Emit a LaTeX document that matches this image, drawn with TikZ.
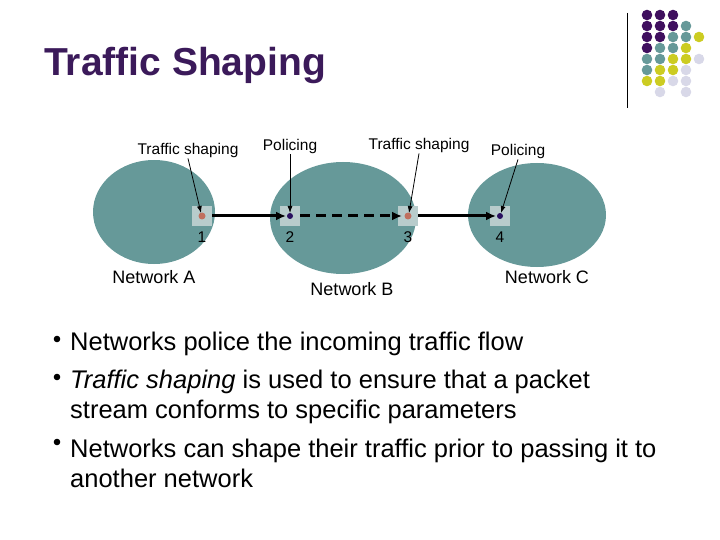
\documentclass[tikz,border=0pt]{standalone}
\usepackage{fontspec}
\setmainfont{Liberation Sans}
\usetikzlibrary{arrows.meta}
\definecolor{tpurple}{HTML}{3F0F5F}
\definecolor{tteal}{HTML}{669999}
\definecolor{tyel}{HTML}{CCCC22}
\definecolor{tlav}{HTML}{D8D8E8}
\definecolor{tsq}{HTML}{B8CCCC}
\definecolor{tsal}{HTML}{C0705F}
\definecolor{tdot}{HTML}{2A1060}
\definecolor{ttitle}{HTML}{3B1A5A}
\begin{document}
\begin{tikzpicture}[x=1pt,y=-1pt,
  net/.style={fill=tteal,draw=none},
  port/.style={fill=tsq,draw=none,minimum size=20pt,inner sep=0pt},
  lbl/.style={font=\fontsize{15.5}{17}\selectfont,inner sep=1pt},
  netlbl/.style={font=\fontsize{18}{20}\selectfont},
  flow/.style={-{Latex[length=10pt,width=9pt]},line width=3pt},
  ptr/.style={-{Latex[length=7pt,width=5pt]},line width=0.8pt},
  bul/.style={anchor=west,font=\fontsize{25.5}{30}\selectfont,align=left,inner sep=0pt},
  gd/.style={circle,inner sep=0pt,minimum size=10pt}]
\useasboundingbox (0,0) rectangle (720,540);
\node[anchor=west,font=\bfseries\fontsize{39}{44}\selectfont,text=ttitle,inner sep=0pt] (title) at (44,66) {Traffic Shaping};
% deco
\draw[line width=0.8pt] (627,13) -- (627,108);
\foreach \r/\row in {0/{P,P,P,N,N},1/{P,P,P,T,N},2/{P,P,T,T,Y},3/{P,T,T,Y,N},4/{T,T,Y,Y,L},5/{T,Y,Y,L,N},6/{Y,Y,L,L,N},7/{N,L,N,L,N}}{
  \foreach \c [count=\i from 0] in \row {
    \if\c P \fill[tpurple] (647+13*\i,15+11*\r) circle (5.3);\fi
    \if\c T \fill[tteal] (647+13*\i,15+11*\r) circle (5.3);\fi
    \if\c Y \fill[tyel] (647+13*\i,15+11*\r) circle (5.3);\fi
    \if\c L \fill[tlav] (647+13*\i,15+11*\r) circle (5.3);\fi
  }}
% networks
\fill[net] (154,212) ellipse (61 and 52);
\fill[net] (343,218) ellipse (73 and 56);
\fill[net] (537,215) ellipse (69 and 52);
\node[port] (p1) at (202,216) {}; \fill[tsal] (p1) circle (3.5);
\node[port] (p2) at (290,216) {}; \fill[tdot] (p2) circle (3);
\node[port] (p3) at (408,216) {}; \fill[tsal] (p3) circle (3.5);
\node[port] (p4) at (500,216) {}; \fill[tdot] (p4) circle (3);
\node[lbl] (n1) at (202,237) {1};
\node[lbl] (n2) at (290,237) {2};
\node[lbl] (n3) at (408,237) {3};
\node[lbl] (n4) at (500,237) {4};
\draw[flow] (p1.east) -- ([xshift=-4pt]p2.center);
\draw[flow,dash pattern=on 10pt off 6pt] (p2.east) -- ([xshift=-6pt]p3.center);
\draw[flow] (p3.east) -- ([xshift=-4pt]p4.center);
\node[lbl] (l1) at (188,150) {Traffic shaping};
\node[lbl] (l2) at (290,146) {Policing};
\node[lbl] (l3) at (419,145) {Traffic shaping};
\node[lbl] (l4) at (518,151) {Policing};
\draw[ptr] (l1.south) -- ([shift={(-1,-3)}]p1.center);
\draw[ptr] (l2.south) -- ([shift={(0,-3)}]p2.center);
\draw[ptr] (l3.south) -- ([shift={(1,-3)}]p3.center);
\draw[ptr] (l4.south) -- ([shift={(1,-3)}]p4.center);
\node[netlbl] (na) at (154,277) {Network A};
\node[netlbl] (nb) at (352,289) {Network B};
\node[netlbl] (nc) at (547,277) {Network C};
% bullets
\foreach \y in {339,377,442} \fill (57,\y) circle (3.3);
\node[bul] (b1) at (70,344) {Networks police the incoming traffic flow};
\node[bul] (b2) at (70,397) {\textit{Traffic shaping} is used to ensure that a packet\\stream conforms to specific parameters};
\node[bul] (b3) at (70,463) {Networks can shape their traffic prior to passing it to\\another network};
\end{tikzpicture}
\end{document}
